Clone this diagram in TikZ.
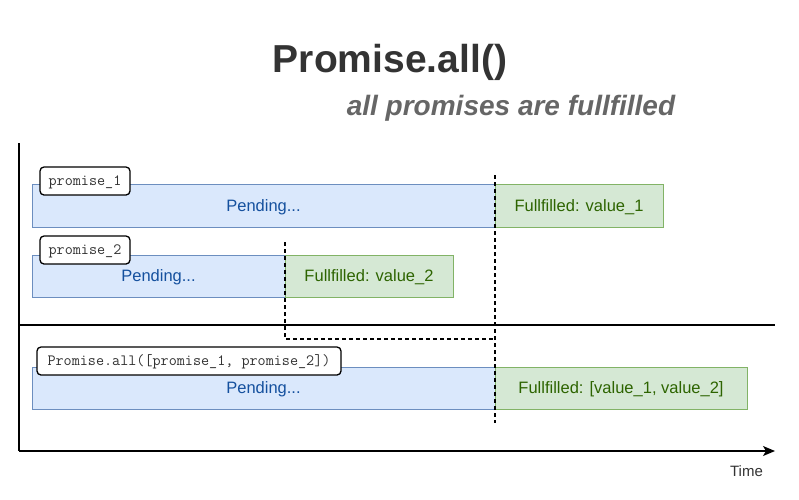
\documentclass[tikz,border=0pt]{standalone}
\usepackage{fontspec}
\setmainfont{Liberation Sans}
\usetikzlibrary{arrows.meta}
\definecolor{pendfill}{HTML}{DAE8FC}
\definecolor{penddraw}{HTML}{6C8EBF}
\definecolor{pendtext}{HTML}{14509E}
\definecolor{fulfill}{HTML}{D5E8D4}
\definecolor{fuldraw}{HTML}{82B366}
\definecolor{fultext}{HTML}{2D6400}
\definecolor{titlecol}{HTML}{333333}
\definecolor{subcol}{HTML}{666666}
\tikzset{
  pendbox/.style={draw=penddraw, fill=pendfill, line width=1pt, inner sep=0pt,
    text=pendtext, font=\fontsize{16.5}{19}\selectfont, text height=11.8pt, text depth=0pt},
  fulbox/.style={draw=fuldraw, fill=fulfill, line width=1pt, inner sep=0pt,
    text=fultext, font=\fontsize{16.5}{19}\selectfont, text height=11.8pt, text depth=0pt},
  tagbox/.style={draw=black, fill=white, line width=1.3pt, rounded corners=4pt, inner sep=0pt,
    minimum height=28pt, text=titlecol, font=\ttfamily\fontsize{15.7}{18}\selectfont, text height=9pt, text depth=0pt},
  guide/.style={draw=black, line width=1.3pt, dash pattern=on 4pt off 3pt},
  axis/.style={draw=black, line width=1.3pt},
}
\begin{document}
\begin{tikzpicture}[x=1pt,y=-1pt]
\useasboundingbox (0,0) rectangle (799,499);
% title
\node[anchor=base, text=titlecol, font=\bfseries\fontsize{39}{44}\selectfont, inner sep=0pt] (title) at (390,72) {Promise.all()};
\node[anchor=base, text=subcol, font=\bfseries\itshape\fontsize{28}{32}\selectfont, inner sep=0pt] (subtitle) at (511,115) {all promises are fullfilled};
% axes
\coordinate (axtop) at (19,143);
\coordinate (origin) at (19,451);
\coordinate (axend) at (775,451);
\coordinate (sepL) at (19,325);
\coordinate (sepR) at (775,325);
\draw[axis] (axtop) -- (origin);
\draw[axis, -{Stealth[length=12pt,width=10pt,inset=3pt]}] (origin) -- (axend);
\draw[axis] (sepL) -- (sepR);
\node[text=titlecol, font=\fontsize{15}{18}\selectfont, anchor=base, inner sep=0pt] (time) at (746.5,476) {Time};
% promise 1
\node[pendbox, minimum width=463pt, minimum height=43pt] (p1pend) at (263.5,205.5) {Pending...};
\node[fulbox, minimum width=168pt, minimum height=43pt] (p1ful) at (579,205.5) {Fullfilled: value\_1};
\node[tagbox, minimum width=90pt] (p1tag) at (85,181) {promise\_1};
% promise 2
\node[pendbox, minimum width=253pt, minimum height=42pt] (p2pend) at (158.5,276) {Pending...};
\node[fulbox, minimum width=168pt, minimum height=42pt] (p2ful) at (369,276) {Fullfilled: value\_2};
\node[tagbox, minimum width=90pt] (p2tag) at (85,250) {promise\_2};
% promise.all
\node[pendbox, minimum width=463pt, minimum height=42pt] (allpend) at (263.5,388) {Pending...};
\node[fulbox, minimum width=252pt, minimum height=42pt] (allful) at (621,388) {Fullfilled: [value\_1, value\_2]};
\node[tagbox, minimum width=304pt] (alltag) at (189,361) {Promise.all([promise\_1, promise\_2])};
% guides
\coordinate (g1top) at (495,175);
\coordinate (g1bot) at (495,423);
\coordinate (g2top) at (285,242);
\coordinate (g2corner) at (285,339);
\coordinate (g2end) at (495,339);
\draw[guide] (g1top) -- (g1bot);
\draw[guide] (g2top) -- (g2corner) -- (g2end);
\end{tikzpicture}
\end{document}
